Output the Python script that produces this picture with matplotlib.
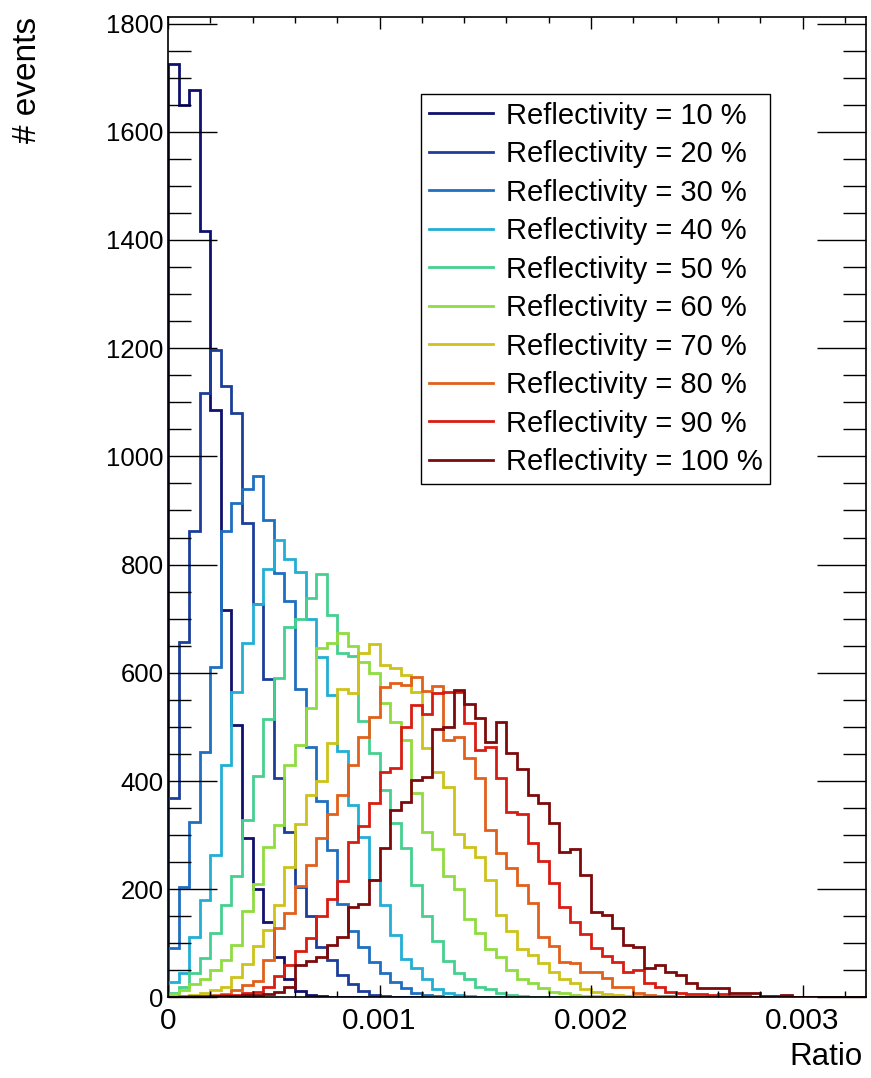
import numpy as np
import matplotlib.pyplot as plt
from matplotlib.lines import Line2D
from matplotlib.ticker import MultipleLocator

plt.rcParams['font.family'] = ['Liberation Sans', 'DejaVu Sans']

nbins = 66
edges = np.linspace(0, 0.0033, nbins + 1)

# contenuti dei bin (i bin mancanti in coda sono vuoti)
r10 = [1726, 1649, 1677, 1416, 1086, 716, 503, 294, 200, 140, 75, 35, 12, 5, 2, 1]
r20 = [368, 657, 863, 1117, 1197, 1131, 1081, 877, 727, 588, 406, 305, 205, 150, 94,
       70, 42, 25, 12, 5, 2, 1]
r30 = [91, 205, 325, 454, 611, 863, 913, 939, 963, 883, 785, 732, 570, 462, 363, 273,
       172, 122, 94, 66, 45, 29, 17, 8, 4, 2, 1]
r40 = [29, 45, 112, 180, 263, 429, 565, 655, 728, 791, 846, 811, 787, 700, 629, 559,
       455, 355, 297, 217, 171, 115, 72, 55, 35, 15, 8, 4, 2, 1]
r50 = [8, 20, 45, 73, 119, 171, 225, 328, 410, 515, 590, 684, 700, 739, 782, 706, 636,
       631, 511, 451, 383, 322, 276, 208, 151, 105, 68, 45, 35, 20, 15, 8, 5, 3, 1]
r60 = [7, 14, 24, 35, 50, 70, 97, 160, 210, 278, 318, 429, 466, 535, 646, 655, 674,
       649, 620, 600, 544, 509, 475, 377, 305, 275, 225, 200, 145, 120, 90, 75, 50, 35,
       27, 17, 11, 8, 5, 3, 2, 1]
r70 = [2, 3, 5, 8, 14, 20, 37, 62, 95, 125, 170, 242, 320, 375, 400, 470, 570, 562,
       636, 653, 614, 608, 596, 565, 461, 417, 389, 303, 278, 260, 217, 152, 122, 90,
       78, 63, 48, 35, 27, 16, 10, 7, 5, 3, 2, 1]
r80 = [1, 2, 2, 3, 4, 7, 14, 23, 30, 70, 128, 156, 206, 245, 295, 340, 375, 430, 482,
       519, 574, 581, 577, 592, 566, 576, 475, 481, 442, 405, 309, 267, 239, 207, 174,
       112, 95, 66, 63, 48, 48, 36, 20, 20, 8, 5, 3, 2, 1]
r90 = [1, 1, 2, 2, 3, 4, 5, 8, 10, 20, 40, 60, 85, 110, 150, 182, 215, 288, 317, 359,
       417, 424, 499, 540, 524, 562, 565, 565, 507, 457, 463, 406, 343, 340, 286, 253,
       212, 168, 139, 118, 92, 77, 66, 47, 51, 27, 20, 11, 8, 6, 6, 4, 7, 3, 2, 1]
r100 = [0, 1, 1, 1, 2, 2, 3, 4, 5, 7, 10, 20, 60, 67, 75, 97, 112, 168, 172, 218, 276,
        346, 362, 401, 408, 497, 499, 569, 542, 516, 472, 509, 451, 423, 374, 359, 322,
        269, 274, 226, 158, 152, 128, 97, 94, 54, 60, 48, 41, 27, 17, 17, 17, 8, 8, 8,
        2, 2, 5, 1]

riflettivita = [10, 20, 30, 40, 50, 60, 70, 80, 90, 100]
istogrammi = [r10, r20, r30, r40, r50, r60, r70, r80, r90, r100]
colori = ['#10106e', '#1c3e9a', '#1f6fc1', '#22afd4', '#45d08f',
          '#8fdc40', '#cdc31a', '#e0601c', '#d91c12', '#7d0a0a']


def riempi(valori):
    # completa con zeri fino al numero di bin
    return np.array(valori + [0] * (nbins - len(valori)), dtype=float)


fig = plt.figure(figsize=(8.71, 10.78), dpi=100)
ax = fig.add_axes([0.1929, 0.0747, 0.8014, 0.9095])

maniglie = []
for r, h, c in zip(riflettivita, istogrammi, colori):
    ax.stairs(riempi(h), edges, color=c, linewidth=2.0, baseline=0)
    maniglie.append(Line2D([], [], color=c, linewidth=2.0,
                           label=f'Reflectivity = {r} %'))

ax.set_xlim(0, 0.0033)
ax.set_ylim(0, 1812)

ax.set_xticks([0, 0.001, 0.002, 0.003], labels=['0', '0.001', '0.002', '0.003'])
ax.xaxis.set_minor_locator(MultipleLocator(0.0002))
ax.yaxis.set_major_locator(MultipleLocator(200))
ax.yaxis.set_minor_locator(MultipleLocator(50))

ax.tick_params(which='both', direction='in', top=True, right=True)
ax.tick_params(axis='y', which='major', length=35, width=1.0, pad=3, labelsize=18.5)
ax.tick_params(axis='y', which='minor', length=16.5, width=1.0)
ax.tick_params(axis='x', which='major', length=8.6, width=1.0, pad=7, labelsize=21.5)
ax.tick_params(axis='x', which='minor', length=4.3, width=1.0)
for s in ax.spines.values():
    s.set_linewidth(1.2)

fig.text(28 / 871, 1 - 17 / 1078, '# events', rotation=90,
         ha='center', va='top', fontsize=24)
fig.text(863 / 871, 1 - 1057 / 1078, 'Ratio', ha='right', va='center', fontsize=22.5)

leg = fig.legend(handles=maniglie, loc='upper left',
                 bbox_to_anchor=(421 / 871, 1 - 94 / 1078),
                 fontsize=21, frameon=True, fancybox=False, framealpha=1,
                 edgecolor='black', handlelength=2.2, handletextpad=0.45,
                 labelspacing=0.36, borderpad=0.26, borderaxespad=0)
leg.get_frame().set_linewidth(1.0)

fig.savefig('out.png', dpi=100)
